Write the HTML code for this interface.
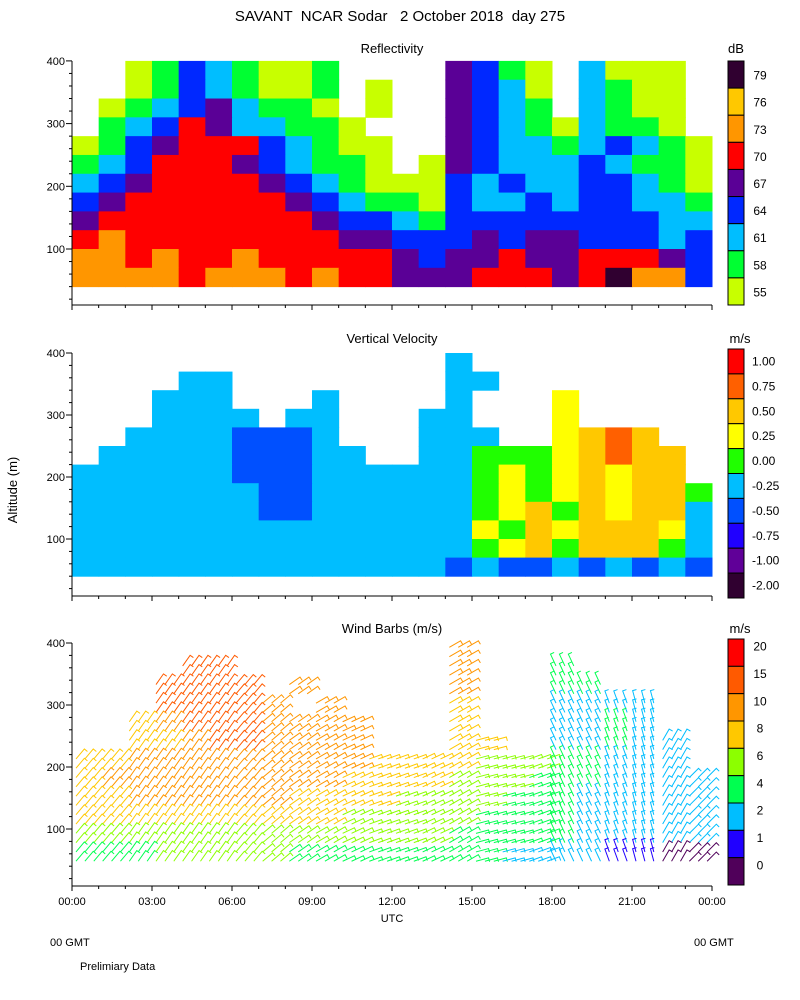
<!DOCTYPE html>
<html><head><meta charset="utf-8"><style>
body{margin:0;background:#fff;}
svg{display:block;font-family:"Liberation Sans","DejaVu Sans",sans-serif;}
text{white-space:pre;}
</style></head><body>
<svg id="chart" width="800" height="1000" viewBox="0 0 800 1000" xmlns="http://www.w3.org/2000/svg">
<rect width="800" height="1000" fill="#fff"/>
<text x="400" y="21" font-size="15" text-anchor="middle" fill="#000" xml:space="preserve">SAVANT  NCAR Sodar   2 October 2018  day 275</text>
<text x="392" y="53" font-size="13" text-anchor="middle">Reflectivity</text>
<text x="392" y="343" font-size="13" text-anchor="middle">Vertical Velocity</text>
<text x="392" y="633" font-size="13" text-anchor="middle">Wind Barbs (m/s)</text>
<text x="736" y="53" font-size="13" text-anchor="middle">dB</text>
<text x="740" y="343" font-size="13" text-anchor="middle">m/s</text>
<text x="740" y="633" font-size="13" text-anchor="middle">m/s</text>
<text transform="translate(17,490) rotate(-90)" font-size="13" text-anchor="middle">Altitude (m)</text>
<text x="392" y="922" font-size="11" text-anchor="middle">UTC</text>
<text x="50" y="946" font-size="11">00 GMT</text>
<text x="694" y="946" font-size="11">00 GMT</text>
<text x="80" y="970" font-size="11">Prelimiary Data</text>
<g id="layer"></g>
</svg>
<script>
// ---- data ----
const hours = [0,1,2,3,4,5,6,7,8,9,10,11,12,13,14,15,16,17,18,19,20,21,22,23];
const rowBases = [370,340,310,280,250,220,190,160,130,100,70,40];
const yTicks = [100,200,300,400];
const xTickLabels = ["00:00","03:00","06:00","09:00","12:00","15:00","18:00","21:00","00:00"];
const reflLabels = ["79","76","73","70","67","64","61","58","55"];
const reflColors = ["#300030","#ffc800","#ff9600","#ff0000","#5a0096","#0028ff","#00beff","#00ff32","#c8ff00"];
const reflCodes = "ihgfedcba";
const reflGrid = [
"..abdcbaab....edba.caaa.",
"..abdcbaab.a..edca.cbaa.",
".abcdecbba.a..edcb.cbaa.",
".bcdfeccbba...edcbacbba.",
"abdefffdcbaa..edccbcdcba",
"bcdfffedcbba.aedcccdcbba",
"cdeffffedcbaaadcdccddcba",
"deffffffedcbbadccdcddccb",
"effffffffeddcbddddddddcc",
"fgffffffffeedddedeedddcd",
"ggfgffgfffffedeefeefffed",
"ggggfgggfgffeeefffefiggd"];
const vvLabels = ["1.00","0.75","0.50","0.25","0.00","-0.25","-0.50","-0.75","-1.00","-2.00"];
const vvColors = ["#ff0000","#ff6000","#ffc800","#ffff00","#20ff00","#00beff","#0050ff","#2000ff","#600098","#300030"];
const vvCodes = "9876543210";
const vvGrid = [
"..............4.........",
"....44........44........",
"...444...4....4...6.....",
"...4444.44...44...6.....",
"..44443334...444..6787..",
".4444433344..4455567877.",
"44444433344444456567677.",
"444444433444444565676775",
"444444433444444567576774",
"444444444444444657677764",
"444444444444444567577754",
"444444444444443433434343"];
const wsLabels = ["20","15","10","8","6","4","2","1","0"];
const wsColors = ["#ff0000","#ff5a00","#ff9600","#ffc800","#8cff00","#00ff50","#00beff","#2000ff","#50005a"];
const wsCodes = "876543210";
const wsGrid = [
"..............6.........",
"....77........6...3.....",
"...7777.6.....6...33....",
"...77776.6....5...2222..",
"..567776666...5...2232..",
"..556776666...55..22322.",
"55666666666555544433222.",
"566666666655554443332222",
"556666665555444433322222",
"555555555544444333322222",
"444444444444443333322222",
"333444443333333322221100"];
const windDir = [50,50,55,55,55,55,50,40,35,30,25,20,20,25,30,15,15,20,115,115,110,105,60,45];

// ---- layout ----
const X0=72, X1=712;
const panels=[{top:61,axisBottom:305,zero:311.7,k:0.627,cb:[61,305]},
              {top:353,axisBottom:596,zero:601,k:0.62,cb:[349,598]},
              {top:643,axisBottom:886,zero:891,k:0.62,cb:[639,885]}];
const xs = h => X0 + h*(X1-X0)/24;
const NS="http://www.w3.org/2000/svg";
const layer=document.getElementById('layer');
function mk(tag,attrs,parent){const e=document.createElementNS(NS,tag);for(const k in attrs)e.setAttribute(k,attrs[k]);(parent||layer).appendChild(e);return e;}

function heat(p,grid,codes,colors,name){
  const P=panels[p]; const ys=m=>P.zero-m*P.k;
  const g=mk('g',{});
  
  
  grid.forEach((row,r)=>{
    for(let c=0;c<row.length;c++){
      const idx=codes.indexOf(row[c]); if(idx<0) continue;
      const a=rowBases[r];
      const rc=mk('rect',{x:xs(hours[c]),y:ys(a+30),width:xs(hours[c]+1)-xs(hours[c])+0.5,height:ys(a)-ys(a+30)+0.5,fill:colors[idx]},g);
      
      
    }
  });
}
heat(0,reflGrid,reflCodes,reflColors,'reflectivity-field');
heat(1,vvGrid,vvCodes,vvColors,'vertical-velocity-field');

(function(){
  const P=panels[2]; const ys=m=>P.zero-m*P.k;
  const g=mk('g',{});
  
  
  wsGrid.forEach((row,r)=>{
    for(let c=0;c<row.length;c++){
      const idx=wsCodes.indexOf(row[c]); if(idx<0) continue;
      const col=wsColors[idx];
      const ang=windDir[c]*Math.PI/180;
      for(let i=0;i<3;i++)for(let j=0;j<2;j++){
        const x=xs(hours[c])+4+i*8.9, y=ys(rowBases[r]+8+j*15);
        const L=13, dx=Math.cos(ang)*L, dy=-Math.sin(ang)*L;
        const ex=x+dx, ey=y+dy;
        const tx=ex+Math.cos(ang-Math.PI/2)*4, ty=ey-Math.sin(ang-Math.PI/2)*4;
        const b=mk('path',{d:`M${x},${y}L${ex},${ey}L${tx},${ty}`,stroke:col,'stroke-width':1,fill:'none'},g);
        
        
      }
    }
  });
})();

panels.forEach((P,p)=>{
  const ys=m=>P.zero-m*P.k;
  const g=mk('g',{stroke:'#000','stroke-width':1});
  
  
  mk('line',{x1:X0,y1:P.top,x2:X0,y2:P.axisBottom},g);
  mk('line',{x1:X0,y1:P.axisBottom,x2:X1,y2:P.axisBottom},g);
  for(let m=20;m<=400;m+=20){const y=ys(m);mk('line',{x1:X0-(m%100?3:6),y1:y,x2:X0,y2:y},g);}
  for(let h=0;h<=24;h++){const x=xs(h);mk('line',{x1:x,y1:P.axisBottom,x2:x,y2:P.axisBottom+(h%3?3:5)},g);}
  yTicks.forEach(v=>{const t=mk('text',{x:X0-7,y:ys(v)+4,'font-size':11,'text-anchor':'end',stroke:'none'},g);t.textContent=v;
    
    });
  if(p===2){xTickLabels.forEach((l,i)=>{const t=mk('text',{x:xs(i*3),y:905,'font-size':11,'text-anchor':'middle',stroke:'none'},g);t.textContent=l;
    
    });}
});

function cbar(p,colors,labels,name){
  const P=panels[p]; const [t,b]=P.cb; const n=colors.length; const h=(b-t)/n;
  const g=mk('g',{});
  
  
  colors.forEach((c,i)=>{
    const r=mk('rect',{x:728,y:t+i*h,width:16,height:h,fill:c,stroke:'#000','stroke-width':1},g);
    
    
    const tx=mk('text',{x:p===1?752:760,y:t+i*h+h/2+(p===0?5:p===2?-2:4),'font-size':12,'text-anchor':p===1?'start':'middle'},g);
    tx.textContent=labels[i];
    
    
  });
}
cbar(0,reflColors,reflLabels,'reflectivity-colorbar');
cbar(1,vvColors,vvLabels,'velocity-colorbar');
cbar(2,wsColors,wsLabels,'wind-speed-colorbar');
</script>
</body></html>
